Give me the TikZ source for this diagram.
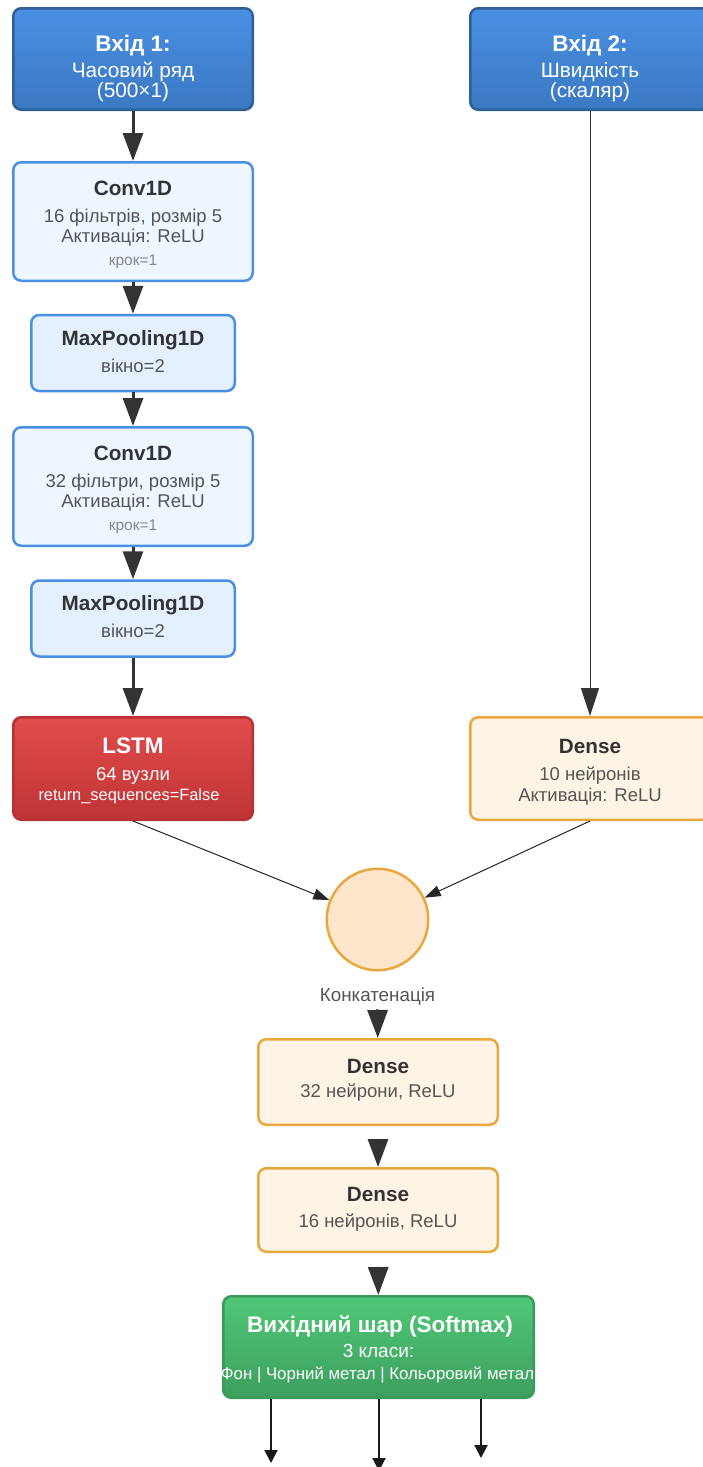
\documentclass[tikz,border=0pt]{standalone}
\usepackage{fontspec}
\setmainfont{Liberation Sans}
\usetikzlibrary{arrows.meta,calc}
\definecolor{inTop}{HTML}{4A90E2}
\definecolor{inBot}{HTML}{3A78C2}
\definecolor{inBorder}{HTML}{2E6096}
\definecolor{convFill}{HTML}{EEF6FF}
\definecolor{poolFill}{HTML}{E4F0FD}
\definecolor{blueBorder}{HTML}{4A90E2}
\definecolor{lstmTop}{HTML}{E24C4C}
\definecolor{lstmBot}{HTML}{BF3436}
\definecolor{lstmBorder}{HTML}{B83234}
\definecolor{denseFill}{HTML}{FDF4E5}
\definecolor{denseBorder}{HTML}{E8A83E}
\definecolor{circFill}{HTML}{FEE6CC}
\definecolor{outTop}{HTML}{50C878}
\definecolor{outBot}{HTML}{3D9E5E}
\definecolor{outBorder}{HTML}{3A9A59}
\definecolor{txtDark}{HTML}{333333}
\definecolor{txtMid}{HTML}{555555}
\definecolor{txtLight}{HTML}{888888}
\definecolor{arrowCol}{HTML}{333333}
\tikzset{
  box/.style={rounded corners=8pt, line width=2.5pt, inner sep=0pt},
  inbox/.style={box, top color=inTop, bottom color=inBot, draw=inBorder,
     minimum width=239.5pt, minimum height=101.5pt},
  convbox/.style={box, fill=convFill, draw=blueBorder, minimum width=239.5pt, minimum height=118.5pt},
  poolbox/.style={box, fill=poolFill, draw=blueBorder, minimum width=203.5pt, minimum height=76pt},
  lstmbox/.style={box, top color=lstmTop, bottom color=lstmBot, draw=lstmBorder,
     minimum width=239.5pt, minimum height=102.5pt},
  densebox/.style={box, fill=denseFill, draw=denseBorder, minimum width=239.5pt},
  outbox/.style={box, top color=outTop, bottom color=outBot, draw=outBorder,
     minimum width=310.5pt, minimum height=101.5pt},
  txt/.style={anchor=base, inner sep=0pt},
  ttl/.style={txt, font=\fontsize{20.7}{24}\selectfont\bfseries, text=txtDark},
  wttl/.style={txt, font=\fontsize{22.5}{26}\selectfont\bfseries, text=white},
  body/.style={txt, font=\fontsize{18.5}{22}\selectfont, text=txtMid},
  small/.style={txt, font=\fontsize{15.5}{18}\selectfont, text=txtLight},
  inbody/.style={txt, font=\fontsize{20.8}{24}\selectfont, text=white},
  thickarrow/.style={draw=arrowCol, line width=3pt, -{Triangle[length=28pt,width=20pt]}},
  thinbig/.style={draw=arrowCol, line width=1pt, -{Triangle[length=28pt,width=18pt]}},
  thinarrow/.style={draw=black!85, line width=1pt, -{Triangle[length=16pt,width=11pt]}},
  outarrow/.style={draw=black!90, line width=2pt, -{Triangle[length=13pt,width=13pt]}},
}
\begin{document}
\begin{tikzpicture}[x=1pt,y=-1pt]
\useasboundingbox (0,0) rectangle (702,1467);
\fill[white] (0,0) rectangle (702,1467);

% inputs
\node[inbox] (in1) at (133,59) {};
\node[wttl] (in1a) at (133,51) {Вхід 1:};
\node[inbody] (in1b) at (133,77) {Часовий ряд};
\node[inbody] (in1c) at (133,97) {(500×1)};

\node[inbox] (in2) at (590,59) {};
\node[wttl] (in2a) at (590,51) {Вхід 2:};
\node[inbody] (in2b) at (590,77) {Швидкість};
\node[inbody] (in2c) at (590,97) {(скаляр)};

% conv1
\node[convbox] (conv1) at (133,221.5) {};
\node[ttl] (c1a) at (133,195) {Conv1D};
\node[body] (c1b) at (133,222) {16 фільтрів, розмір 5};
\node[body] (c1c) at (133,242) {Активація: ReLU};
\node[small] (c1d) at (133,265) {крок=1};

% pool1
\node[poolbox] (pool1) at (133,353) {};
\node[ttl] (p1a) at (133,345) {MaxPooling1D};
\node[body] (p1b) at (133,372) {вікно=2};

% conv2
\node[convbox] (conv2) at (133,486.5) {};
\node[ttl] (c2a) at (133,460) {Conv1D};
\node[body] (c2b) at (133,487) {32 фільтри, розмір 5};
\node[body] (c2c) at (133,507) {Активація: ReLU};
\node[small] (c2d) at (133,530) {крок=1};

% pool2
\node[poolbox] (pool2) at (133,618.5) {};
\node[ttl] (p2a) at (133,610) {MaxPooling1D};
\node[body] (p2b) at (133,637) {вікно=2};

% lstm
\node[lstmbox] (lstm) at (133,768.5) {};
\node[wttl] (la) at (133,753) {LSTM};
\node[body, text=white] (lb) at (133,780) {64 вузли};
\node[txt, font=\fontsize{16.4}{19}\selectfont, text=white] (lc) at (129,800) {return\_sequences=False};

% dense right
\node[densebox, minimum height=102.5pt] (dense1) at (590,768.5) {};
\node[ttl] (d1a) at (590,753) {Dense};
\node[body] (d1b) at (590,780) {10 нейронів};
\node[body] (d1c) at (590,801) {Активація: ReLU};

% concat
\node[circle, fill=circFill, draw=denseBorder, line width=2.5pt, minimum size=101.5pt, inner sep=0pt] (circ) at (377.5,919.5) {};
\node[txt, font=\fontsize{18.8}{22}\selectfont, text=txtMid] (concat) at (377.5,1001) {Конкатенація};

% dense 32
\node[densebox, minimum height=85.5pt] (d32) at (378,1082) {};
\node[ttl] (d32a) at (378,1073) {Dense};
\node[body] (d32b) at (378,1097) {32 нейрони, ReLU};

% dense 16
\node[densebox, minimum height=83.5pt] (d16) at (378,1210) {};
\node[ttl] (d16a) at (378,1201) {Dense};
\node[body] (d16b) at (378,1227) {16 нейронів, ReLU};

% output
\node[outbox] (out) at (378.5,1347) {};
\node[wttl] (oa) at (380,1332) {Вихідний шар (Softmax)};
\node[txt, font=\fontsize{19}{22}\selectfont, text=white] (ob) at (378.5,1357) {3 класи:};
\node[txt, font=\fontsize{16.8}{19}\selectfont, text=white] (oc) at (377.5,1379) {Фон | Чорний метал | Кольоровий метал};

% connectors
\draw[thickarrow] (in1) -- (conv1);
\draw[thickarrow] (conv1) -- (pool1);
\draw[thickarrow] (pool1) -- (conv2);
\draw[thickarrow] (conv2) -- (pool2);
\draw[thickarrow] (pool2) -- (lstm);
\draw[thinbig] (in2) -- (dense1);
\draw[thinarrow] (lstm.south) -- (circ);
\draw[thinarrow] (dense1.south) -- (circ);
\draw[thickarrow, shorten <=4.5pt] (concat) -- (d32);
\draw[thickarrow, shorten <=12.8pt] (d32) -- (d16);
\draw[thickarrow, shorten <=13.8pt] (d16) -- (out);

\coordinate (e1) at (271,1463);
\coordinate (e2) at (379,1471);
\coordinate (e3) at (481,1458);
\draw[outarrow] (out.south -| e1) -- (e1);
\draw[outarrow] (out.south -| e2) -- (e2);
\draw[outarrow] (out.south -| e3) -- (e3);
\end{tikzpicture}
\end{document}
